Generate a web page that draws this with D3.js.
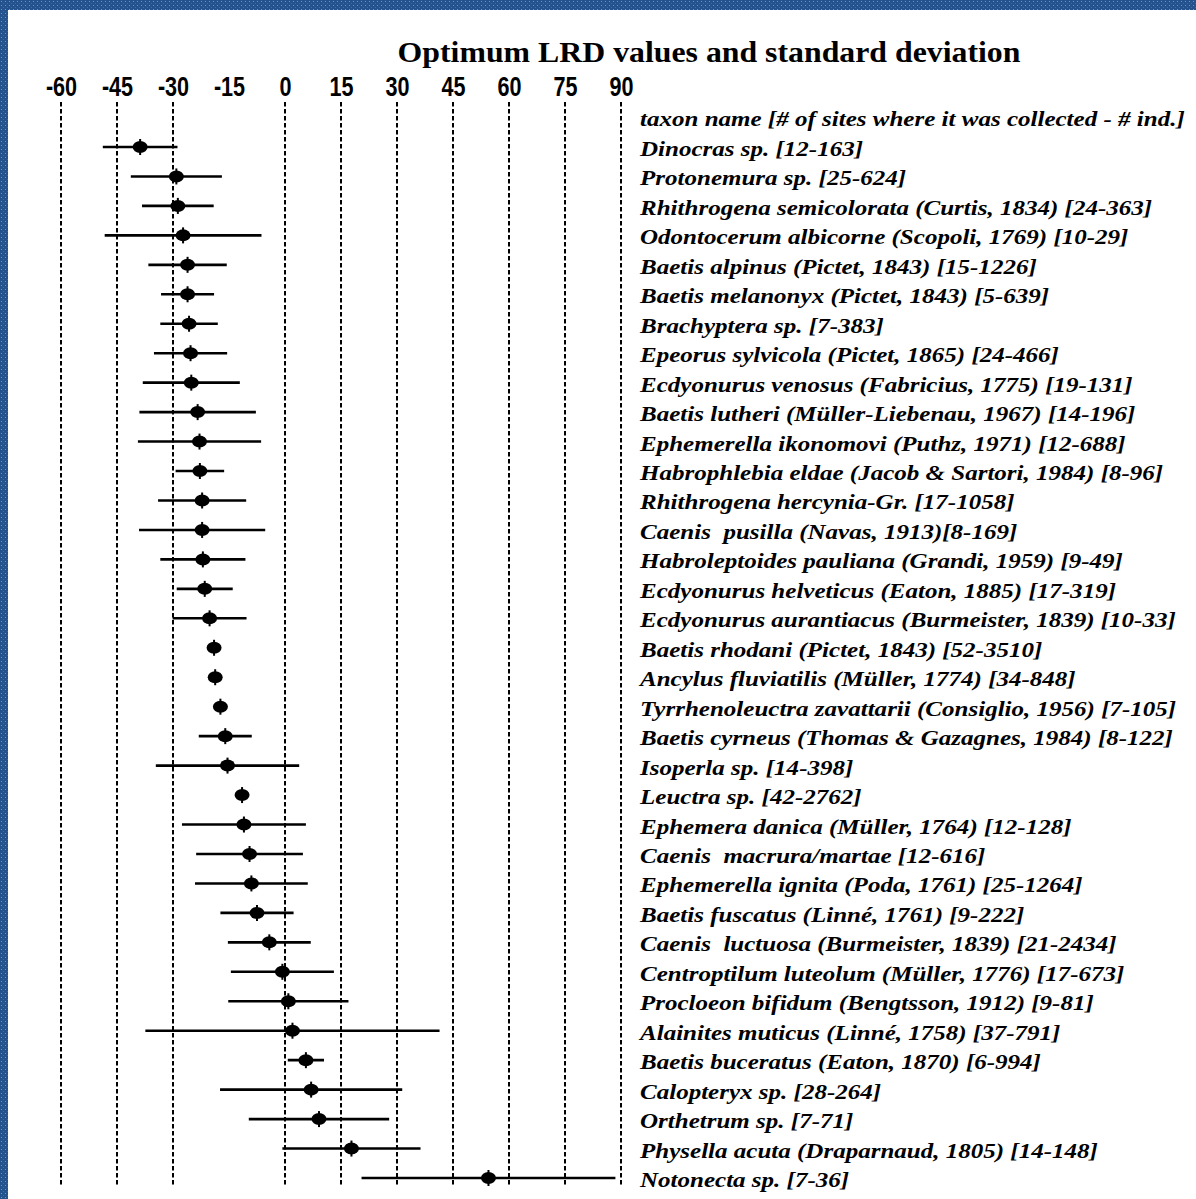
<!DOCTYPE html>
<html>
<head>
<meta charset="utf-8">
<script src="https://cdn.jsdelivr.net/npm/d3@7"></script>
<style>
  html, body { margin: 0; padding: 0; background: #ffffff; }
  svg { display: block; }
</style>
</head>
<body>
<svg id="chart" width="1196" height="1199"></svg>
<script>
// Optimum LRD value (mean) and standard deviation per taxon
const taxa = [
  "Dinocras sp. [12-163]",
  "Protonemura sp. [25-624]",
  "Rhithrogena semicolorata (Curtis, 1834) [24-363]",
  "Odontocerum albicorne (Scopoli, 1769) [10-29]",
  "Baetis alpinus (Pictet, 1843) [15-1226]",
  "Baetis melanonyx (Pictet, 1843) [5-639]",
  "Brachyptera sp. [7-383]",
  "Epeorus sylvicola (Pictet, 1865) [24-466]",
  "Ecdyonurus venosus (Fabricius, 1775) [19-131]",
  "Baetis lutheri (Müller-Liebenau, 1967) [14-196]",
  "Ephemerella ikonomovi (Puthz, 1971) [12-688]",
  "Habrophlebia eldae (Jacob & Sartori, 1984) [8-96]",
  "Rhithrogena hercynia-Gr. [17-1058]",
  "Caenis  pusilla (Navas, 1913)[8-169]",
  "Habroleptoides pauliana (Grandi, 1959) [9-49]",
  "Ecdyonurus helveticus (Eaton, 1885) [17-319]",
  "Ecdyonurus aurantiacus (Burmeister, 1839) [10-33]",
  "Baetis rhodani (Pictet, 1843) [52-3510]",
  "Ancylus fluviatilis (Müller, 1774) [34-848]",
  "Tyrrhenoleuctra zavattarii (Consiglio, 1956) [7-105]",
  "Baetis cyrneus (Thomas & Gazagnes, 1984) [8-122]",
  "Isoperla sp. [14-398]",
  "Leuctra sp. [42-2762]",
  "Ephemera danica (Müller, 1764) [12-128]",
  "Caenis  macrura/martae [12-616]",
  "Ephemerella ignita (Poda, 1761) [25-1264]",
  "Baetis fuscatus (Linné, 1761) [9-222]",
  "Caenis  luctuosa (Burmeister, 1839) [21-2434]",
  "Centroptilum luteolum (Müller, 1776) [17-673]",
  "Procloeon bifidum (Bengtsson, 1912) [9-81]",
  "Alainites muticus (Linné, 1758) [37-791]",
  "Baetis buceratus (Eaton, 1870) [6-994]",
  "Calopteryx sp. [28-264]",
  "Orthetrum sp. [7-71]",
  "Physella acuta (Draparnaud, 1805) [14-148]",
  "Notonecta sp. [7-36]"
];

const optimum = [
  -38.8, -29.1, -28.7, -27.3, -26.1, -26.1, -25.7, -25.3, -25.1, -23.4,
  -22.9, -22.8, -22.2, -22.2, -22.0, -21.5, -20.2, -19.0, -18.7, -17.3,
  -16.0, -15.4, -11.5, -11.0, -9.5, -9.0, -7.5, -4.2, -0.7, 0.9,
  2.0, 5.6, 7.0, 9.1, 17.8, 54.5
];

const stdDev = [
  10.0, 12.2, 9.6, 21.0, 10.5, 7.1, 7.7, 9.8, 13.0, 15.6,
  16.5, 6.5, 11.8, 16.9, 11.4, 7.5, 9.9, 1.2, 1.2, 1.2,
  7.1, 19.2, 1.2, 16.6, 14.3, 15.1, 9.8, 11.1, 13.8, 16.1,
  39.4, 4.85, 24.4, 18.8, 18.5, 34.0
];

const tickValues = [-60, -45, -30, -15, 0, 15, 30, 45, 60, 75, 90];
const gridValues = [-60, -45, -30, 0, 15, 30, 45, 60, 75, 90];

const titleText = "Optimum LRD values and standard deviation";
const headerText = "taxon name [# of sites where it was collected - # ind.]";

const rows = taxa.map((name, i) => ({ name, mean: optimum[i], sd: stdDev[i] }));

const svg = d3.select("#chart");
const W = 1196, H = 1199;

// textured blue frame along the top and left edges
const defs = svg.append("defs");
const pat = defs.append("pattern")
  .attr("id", "frameTex").attr("patternUnits", "userSpaceOnUse")
  .attr("width", 4).attr("height", 4);
pat.append("rect").attr("width", 4).attr("height", 4).attr("fill", "#24528c");
pat.append("rect").attr("x", 1).attr("y", 1).attr("width", 1).attr("height", 1).attr("fill", "#6f97c6");
pat.append("rect").attr("x", 3).attr("y", 3).attr("width", 1).attr("height", 1).attr("fill", "#3f6aa3");

svg.append("rect").attr("width", W).attr("height", H).attr("fill", "#ffffff");
svg.append("rect").attr("x", 0).attr("y", 0).attr("width", W).attr("height", 10).attr("fill", "url(#frameTex)");
svg.append("rect").attr("x", 0).attr("y", 0).attr("width", 8).attr("height", H).attr("fill", "url(#frameTex)");

const x = d3.scaleLinear().domain([-60, 90]).range([61, 621]);
const y = d3.scalePoint().domain(d3.range(taxa.length)).range([147, 1178]);
const step = y.step();

// title (widened serif face)
svg.append("g").attr("transform", "translate(709,62) scale(1.097,1)")
  .append("text")
  .attr("x", 0).attr("y", 0)
  .attr("text-anchor", "middle")
  .attr("font-family", "'Liberation Serif', 'DejaVu Serif', serif")
  .attr("font-weight", "bold")
  .attr("font-size", 29)
  .attr("fill", "#000")
  .text(titleText);

// tick labels along the top (condensed bold)
const axis = d3.axisTop(x).tickValues(tickValues).tickSize(0).tickPadding(0).tickFormat(d3.format("d"));
const gAxis = svg.append("g").attr("transform", "translate(0,96)").call(axis);
gAxis.select(".domain").remove();
gAxis.selectAll("text")
  .attr("font-family", "'Liberation Sans', Arial, sans-serif")
  .attr("font-weight", "bold")
  .attr("font-size", 27)
  .attr("fill", "#000")
  .attr("transform", "scale(0.8,1)")
  .text(d => d < 0 ? "-" + Math.abs(d) : String(d));

// dashed vertical gridlines
svg.append("g").selectAll("line").data(gridValues).join("line")
  .attr("x1", d => x(d)).attr("x2", d => x(d))
  .attr("y1", 102).attr("y2", 1186)
  .attr("stroke", "#000").attr("stroke-width", 2)
  .attr("stroke-dasharray", "4.5,2.5");

// error bars (mean ± sd)
svg.append("g").selectAll("line").data(rows).join("line")
  .attr("x1", d => x(d.mean - d.sd)).attr("x2", d => x(d.mean + d.sd))
  .attr("y1", (d, i) => y(i)).attr("y2", (d, i) => y(i))
  .attr("stroke", "#000").attr("stroke-width", 2.6);

// optimum markers
svg.append("g").selectAll("ellipse").data(rows).join("ellipse")
  .attr("cx", d => x(d.mean)).attr("cy", (d, i) => y(i))
  .attr("rx", 7.5).attr("ry", 6)
  .attr("fill", "#000");
svg.append("g").selectAll("line").data(rows).join("line")
  .attr("x1", d => x(d.mean)).attr("x2", d => x(d.mean))
  .attr("y1", (d, i) => y(i) - 8).attr("y2", (d, i) => y(i) + 8)
  .attr("stroke", "#000").attr("stroke-width", 2);

// taxon labels (bold italic serif, widened)
const labelFont = "'Liberation Serif', 'DejaVu Serif', serif";
const labels = svg.append("g").attr("transform", "translate(640,0) scale(1.138,1)");
labels.append("text")
  .attr("x", 0).attr("y", y(0) - step + 8)
  .attr("font-family", labelFont).attr("font-weight", "bold").attr("font-style", "italic")
  .attr("font-size", 22).attr("fill", "#000")
  .attr("xml:space", "preserve")
  .text(headerText);

labels.selectAll("text.taxon").data(rows).join("text")
  .attr("class", "taxon")
  .attr("x", 0).attr("y", (d, i) => y(i) + 9)
  .attr("font-family", labelFont).attr("font-weight", "bold").attr("font-style", "italic")
  .attr("font-size", 22).attr("fill", "#000")
  .attr("xml:space", "preserve")
  .text(d => d.name);
</script>
</body>
</html>
